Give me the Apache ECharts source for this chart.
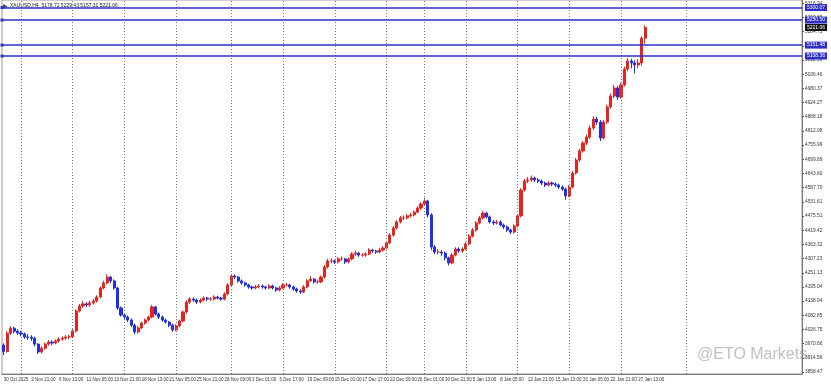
<!DOCTYPE html>
<html><head><meta charset="utf-8">
<script src="https://cdn.jsdelivr.net/npm/echarts@6/dist/echarts.min.js"></script>
<style>html,body{margin:0;padding:0;background:#fff}#c{width:831px;height:384px}</style>
</head><body><div id="c"></div>
<script>
const xTickLabels = ['30 Oct 2025','3 Nov 21:00','6 Nov 13:00','11 Nov 05:00','13 Nov 21:00','18 Nov 13:00','21 Nov 05:00','25 Nov 21:00','28 Nov 09:00','3 Dec 01:00','5 Dec 17:00','10 Dec 09:00','15 Dec 01:00','17 Dec 17:00','22 Dec 09:00','26 Dec 01:00','30 Dec 21:00','5 Jan 13:00','8 Jan 05:00','12 Jan 21:00','15 Jan 13:00','20 Jan 05:00','22 Jan 21:00','27 Jan 13:00'];
const firstOpen = 3965;
const closes = [3940,4012,4032,4020,4013,4009,3997,3996,3992,3969,
3938,3953,3969,3977,3973,3981,3989,3993,3997,3997,
4021,4100,4120,4128,4124,4132,4139,4155,4191,4211,
4234,4219,4191,4112,4084,4076,4064,4044,4017,4033,
4052,4064,4076,4116,4088,4076,4064,4056,4044,4025,
4041,4060,4096,4135,4147,4143,4135,4143,4151,4147,
4147,4155,4151,4147,4167,4203,4238,4234,4219,4211,
4203,4195,4191,4195,4199,4195,4191,4199,4191,4183,
4191,4203,4203,4195,4187,4179,4175,4195,4219,4226,
4215,4215,4234,4274,4298,4298,4294,4306,4306,4294,
4306,4325,4329,4321,4321,4325,4341,4337,4333,4341,
4349,4369,4400,4428,4452,4468,4468,4476,4480,4491,
4507,4523,4535,4480,4353,4333,4333,4329,4310,4290,
4321,4345,4337,4345,4365,4396,4420,4448,4468,4487,
4472,4452,4448,4452,4440,4432,4420,4412,4436,4476,
4578,4614,4618,4626,4618,4614,4606,4598,4606,4602,
4598,4590,4582,4555,4590,4646,4697,4733,4764,4788,
4824,4859,4847,4784,4847,4907,4950,4982,4946,4994,
5057,5089,5081,5073,5081,5178.72,5221.06];
const highs = [3972,4020,4040,4038,4028,4022,4015,4008,4004,3998,
3972,3960,3975,3985,3984,3988,3996,4000,4004,4006,
4028,4106,4128,4140,4135,4140,4148,4162,4198,4220,
4245,4238,4225,4195,4118,4092,4082,4070,4050,4040,
4058,4070,4082,4124,4120,4094,4082,4070,4060,4050,
4048,4066,4102,4142,4155,4154,4150,4150,4158,4156,
4155,4162,4160,4156,4174,4210,4246,4245,4238,4225,
4216,4208,4200,4202,4206,4205,4200,4206,4204,4196,
4198,4210,4212,4208,4200,4192,4186,4202,4226,4238,
4230,4224,4240,4282,4306,4308,4304,4314,4315,4310,
4312,4332,4338,4334,4330,4332,4348,4346,4342,4348,
4356,4376,4408,4436,4460,4476,4478,4484,4488,4498,
4514,4530,4548,4540,4486,4360,4345,4340,4335,4315,
4328,4352,4352,4352,4372,4404,4428,4455,4476,4495,
4492,4478,4460,4460,4458,4446,4438,4426,4442,4482,
4586,4622,4630,4636,4632,4626,4620,4612,4614,4612,
4608,4604,4596,4588,4598,4654,4705,4742,4772,4798,
4834,4870,4868,4855,4855,4916,4960,4994,4990,5004,
5066,5100,5098,5092,5096,5186,5229.43];
const lows = [3926,3935,4005,4012,4005,4000,3990,3986,3982,3960,
3930,3932,3946,3962,3965,3968,3975,3982,3986,3988,
3992,4015,4094,4112,4115,4116,4125,4133,4150,4185,
4205,4210,4185,4105,4078,4068,4056,4036,4008,4010,
4028,4046,4058,4070,4082,4068,4057,4050,4036,4018,
4020,4035,4055,4090,4128,4136,4128,4130,4138,4140,
4140,4142,4145,4140,4142,4162,4198,4226,4212,4204,
4196,4188,4184,4186,4190,4188,4184,4186,4185,4176,
4178,4186,4196,4188,4180,4172,4168,4170,4190,4214,
4208,4208,4210,4228,4268,4290,4286,4288,4298,4286,
4288,4300,4318,4314,4314,4315,4320,4330,4326,4328,
4335,4344,4364,4394,4422,4446,4460,4462,4470,4474,
4486,4500,4518,4470,4340,4325,4324,4318,4300,4280,
4285,4316,4330,4330,4340,4360,4390,4414,4442,4462,
4466,4446,4440,4442,4434,4424,4412,4404,4406,4430,
4470,4572,4606,4610,4610,4606,4598,4590,4592,4594,
4590,4582,4574,4540,4550,4584,4640,4690,4726,4756,
4780,4816,4836,4772,4778,4840,4900,4942,4935,4940,
4988,5048,5060,5040,5060,5070,5157.31];
const yTickValues = [3858.47,3914.56,3970.66,4026.75,4082.85,4138.94,4195.04,4251.13,4307.23,4363.32,4419.42,4475.51,4531.61,4587.70,4643.80,4699.89,4755.99,4812.08,4868.18,4924.27,4980.37,5036.46,5092.56,5148.66,5204.75,5260.85,5316.94];
const levelLines = [5300.07, 5250.50, 5151.48, 5108.36];
const lastPrice = 5221.06;
const weekLines = [5,20,35,50,66,81,96,111,122,134,149,164,179,198];
const totalSlots = 232;
const yMin = 3850.7, yMax = 5329.9;

const cats = Array.from({length: totalSlots}, (_, i) => String(i));
const ohlc = closes.map((c, i) => [i === 0 ? firstOpen : closes[i-1], c, lows[i], highs[i]]);

const chart = echarts.init(document.getElementById('c'));
const FONT = 'Liberation Sans';
chart.setOption({
  animation: false,
  backgroundColor: '#fff',
  grid: {left: 2, right: 29, top: 0, bottom: 10, show: true, borderColor: '#9a9a9a', borderWidth: 1},
  xAxis: {
    type: 'category', data: cats, boundaryGap: true,
    axisLine: {lineStyle: {color: '#777'}},
    axisTick: {interval: 7, alignWithLabel: true, length: 2, lineStyle: {color: '#555'}},
    axisLabel: {interval: 7, align: 'left', margin: 3, fontSize: 4.5, color: '#333', fontFamily: FONT,
      formatter: (v, idx) => xTickLabels[idx / 8] || ''},
    splitLine: {show: false}
  },
  yAxis: {
    type: 'value', position: 'right', min: yMin, max: yMax, scale: true,
    axisLine: {show: true, lineStyle: {color: '#777'}},
    axisTick: {show: true, length: 2, customValues: yTickValues, lineStyle: {color: '#555'}},
    axisLabel: {customValues: yTickValues, fontSize: 4.8, color: '#333', fontFamily: FONT, margin: 3,
      formatter: v => v.toFixed(2)},
    splitLine: {show: false}
  },
  series: [
    {
      type: 'line', data: [], silent: true,
      markLine: {
        silent: true, symbol: ['none', 'none'], animation: false,
        lineStyle: {color: '#7a7a7a', type: [1, 2], width: 1},
        label: {show: false},
        data: weekLines.map(i => ({xAxis: i}))
      }
    },
    {
      type: 'candlestick', data: ohlc, barWidth: 2.6,
      itemStyle: {color: '#e8221c', color0: '#1f2fe6', borderColor: '#e8221c', borderColor0: '#1f2fe6', borderWidth: 1},
      z: 3
    },
    {
      type: 'line', data: [], silent: true, z: 5,
      markLine: {
        silent: true, symbol: ['rect', 'none'], symbolSize: 3, animation: false,
        lineStyle: {color: '#2e2ec8', type: 'solid', width: 1.5},
        label: {show: true, position: 'end', distance: 3, formatter: p => p.value.toFixed(2),
          backgroundColor: '#2e2ec8', color: '#fff', fontSize: 5, fontFamily: FONT, padding: [1, 2]},
        data: levelLines.map(v => ({yAxis: v}))
      }
    },
    {
      type: 'line', data: [], silent: true, z: 6,
      markLine: {
        silent: true, symbol: ['none', 'none'], animation: false,
        lineStyle: {color: 'rgba(0,0,0,0)', width: 1},
        label: {show: true, position: 'end', distance: 3, formatter: p => p.value.toFixed(2),
          backgroundColor: '#111', color: '#fff', fontSize: 5, fontFamily: FONT, padding: [1, 2]},
        data: [{yAxis: lastPrice}]
      }
    }
  ],
  graphic: [
    {type: 'text', left: 10, top: 3, style: {text: 'XAUUSD,H4  5178.72 5229.43 5157.31 5221.06', fontSize: 5, fill: '#222', fontFamily: FONT}},
    {type: 'polygon', shape: {points: [[3,4],[8,6.5],[3,9]]}, style: {fill: '#555'}},
    {type: 'text', left: 697, top: 347, style: {text: '@ETO Markets', fontSize: 16, fill: 'rgba(140,140,140,0.55)', fontFamily: FONT}}
  ]
});
</script>
</body></html>
